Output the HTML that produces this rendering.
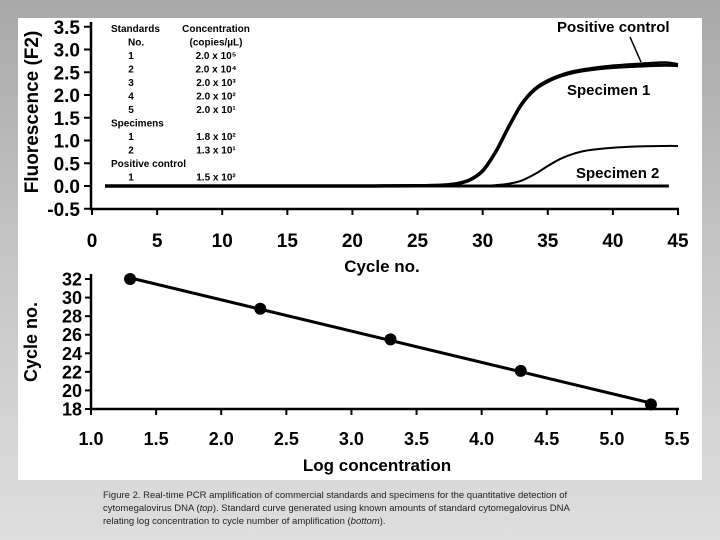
<!DOCTYPE html>
<html><head><meta charset="utf-8"><style>
html,body{margin:0;padding:0}
body{width:720px;height:540px;overflow:hidden;background:linear-gradient(180deg,#a8a8a8 0%,#c4c4c4 45%,#dedede 100%);font-family:"Liberation Sans",sans-serif;position:relative}
#panel{position:absolute;left:18px;top:18px;width:684px;height:462px;background:#fff}
#cap{position:absolute;left:103px;top:489px;width:500px;font-size:9.5px;line-height:13px;color:#222}
</style></head><body>
<div id="panel"></div>
<svg id="svg" width="720" height="540" style="position:absolute;left:0;top:0"></svg>
<div id="cap">Figure 2. Real-time PCR amplification of commercial standards and specimens for the quantitative detection of cytomegalovirus DNA (<i>top</i>). Standard curve generated using known amounts of standard cytomegalovirus DNA relating log concentration to cycle number of amplification (<i>bottom</i>).</div>
<script>
const cycles=[1,5,10,15,20,25,27,28,29,30,31,32,33,34,35,36,37,38,40,42,44,45];
const spec1=[0,0,0,0,0,0.005,0.02,0.05,0.13,0.33,0.75,1.3,1.8,2.12,2.3,2.42,2.5,2.55,2.61,2.64,2.66,2.65];
const posCtrl=[0,0,0,0,0,0.005,0.02,0.06,0.15,0.36,0.78,1.33,1.83,2.15,2.33,2.45,2.53,2.58,2.65,2.69,2.72,2.68];
const spec2=[0,0,0,0,0,0,0,0,0,0,0.02,0.05,0.12,0.26,0.44,0.6,0.71,0.78,0.84,0.87,0.88,0.88];
const fTicks=["3.5","3.0","2.5","2.0","1.5","1.0","0.5","0.0","-0.5"];
const cTicks=["0","5","10","15","20","25","30","35","40","45"];
const logConc=[1.3,2.3,3.3,4.3,5.3];
const ctVals=[32,28.8,25.5,22.1,18.5];
const ctTicks=["32","30","28","26","24","22","20","18"];
const logTicks=["1.0","1.5","2.0","2.5","3.0","3.5","4.0","4.5","5.0","5.5"];

const S=document.getElementById('svg');const NS='http://www.w3.org/2000/svg';
function mk(t,a,txt){const e=document.createElementNS(NS,t);for(const k in a)e.setAttribute(k,a[k]);if(txt!==undefined)e.textContent=txt;S.appendChild(e);return e;}
const tx=c=>92+c*(586/45), ty=v=>186-v*45.5;
const bx=v=>91+(v-1)*(586/4.5), by=v=>409-(v-18)*(130/14);

let e;
e=mk('line',{x1:91,y1:22,x2:91,y2:209,stroke:'#000','stroke-width':2.5});

e=mk('line',{x1:90,y1:209,x2:679,y2:209,stroke:'#000','stroke-width':2.5});

fTicks.forEach(t=>{const y=ty(parseFloat(t));
 e=mk('line',{x1:84,y1:y,x2:91,y2:y,stroke:'#000','stroke-width':2});
 
 e=mk('text',{x:80,y:y+7,'text-anchor':'end','font-size':19,'font-weight':'bold'},t);
 });
cTicks.forEach(t=>{const x=tx(parseFloat(t));
 e=mk('line',{x1:x,y1:209,x2:x,y2:215,stroke:'#000','stroke-width':2});
 
 e=mk('text',{x:x,y:247,'text-anchor':'middle','font-size':19,'font-weight':'bold'},t);
 });
e=mk('text',{x:0,y:0,transform:'translate(38,112) rotate(-90)','text-anchor':'middle','font-size':19,'font-weight':'bold'},'Fluorescence (F2)');

e=mk('text',{x:382,y:272,'text-anchor':'middle','font-size':17,'font-weight':'bold'},'Cycle no.');


function smooth(xs,ys){const p=xs.map((x,i)=>[x,ys[i]]);let d='M'+p[0][0]+','+p[0][1];
 for(let i=0;i<p.length-1;i++){const p0=p[i-1]||p[i],p1=p[i],p2=p[i+1],p3=p[i+2]||p2;
 d+=' C'+(p1[0]+(p2[0]-p0[0])/6)+','+(p1[1]+(p2[1]-p0[1])/6)+' '+(p2[0]-(p3[0]-p1[0])/6)+','+(p2[1]-(p3[1]-p1[1])/6)+' '+p2[0]+','+p2[1];}return d;}
e=mk('line',{x1:tx(1),y1:ty(0),x2:tx(44.3),y2:ty(0),stroke:'#000','stroke-width':3});

const X=cycles.map(tx);
e=mk('path',{d:smooth(X,spec2.map(ty)),fill:'none',stroke:'#000','stroke-width':2});

e=mk('path',{d:smooth(X,posCtrl.map(ty)),fill:'none',stroke:'#000','stroke-width':2});

e=mk('path',{d:smooth(X,spec1.map(ty)),fill:'none',stroke:'#000','stroke-width':3.5});

e=mk('text',{x:557,y:32,'font-size':15,'font-weight':'bold'},'Positive control');

e=mk('line',{x1:630,y1:37,x2:641,y2:62,stroke:'#000','stroke-width':1.5});

e=mk('text',{x:567,y:95,'font-size':15,'font-weight':'bold'},'Specimen 1');

e=mk('text',{x:576,y:178,'font-size':15,'font-weight':'bold'},'Specimen 2');


const rows=[[111,'Standards',216,'Concentration'],[128,'No.',216,'(copies/\u00b5L)'],[131,'1',216,'2.0 x 10\u2075'],[131,'2',216,'2.0 x 10\u2074'],[131,'3',216,'2.0 x 10\u00b3'],[131,'4',216,'2.0 x 10\u00b2'],[131,'5',216,'2.0 x 10\u00b9'],[111,'Specimens',216,''],[131,'1',216,'1.8 x 10\u00b2'],[131,'2',216,'1.3 x 10\u00b9'],[111,'Positive control',216,''],[131,'1',216,'1.5 x 10\u00b2']];
rows.forEach((r,i)=>{const y=32+i*13.5;
 e=mk('text',{x:r[0],y:y,'font-size':10,'font-weight':'bold','text-anchor':r[0]===131?'middle':'start'},r[1]);
 
 if(r[3]){e=mk('text',{x:r[2],y:y,'font-size':10,'font-weight':'bold','text-anchor':'middle'},r[3]);
 }});

e=mk('line',{x1:91,y1:274,x2:91,y2:409,stroke:'#000','stroke-width':2.5});

e=mk('line',{x1:90,y1:409,x2:679,y2:409,stroke:'#000','stroke-width':2.5});

ctTicks.forEach(t=>{const y=by(parseFloat(t));
 e=mk('line',{x1:85,y1:y,x2:91,y2:y,stroke:'#000','stroke-width':2});
 
 e=mk('text',{x:82,y:y+6.5,'text-anchor':'end','font-size':18,'font-weight':'bold'},t);
 });
logTicks.forEach(t=>{const x=bx(parseFloat(t));
 e=mk('line',{x1:x,y1:409,x2:x,y2:415,stroke:'#000','stroke-width':2});
 
 e=mk('text',{x:x,y:445,'text-anchor':'middle','font-size':18,'font-weight':'bold'},t);
 });
e=mk('text',{x:0,y:0,transform:'translate(37,342) rotate(-90)','text-anchor':'middle','font-size':18,'font-weight':'bold'},'Cycle no.');

e=mk('text',{x:377,y:471,'text-anchor':'middle','font-size':17,'font-weight':'bold'},'Log concentration');

const n=logConc.length,mx=logConc.reduce((a,b)=>a+b)/n,my=ctVals.reduce((a,b)=>a+b)/n;
let sxy=0,sxx=0;logConc.forEach((x,i)=>{sxy+=(x-mx)*(ctVals[i]-my);sxx+=(x-mx)**2;});
const sl=sxy/sxx,ic=my-sl*mx,x0=logConc[0],x1=logConc[n-1];
e=mk('line',{x1:bx(x0),y1:by(ic+sl*x0),x2:bx(x1),y2:by(ic+sl*x1),stroke:'#000','stroke-width':3});

logConc.forEach((x,i)=>{e=mk('circle',{cx:bx(x),cy:by(ctVals[i]),r:6,fill:'#000'});
 });
</script>
</body></html>
